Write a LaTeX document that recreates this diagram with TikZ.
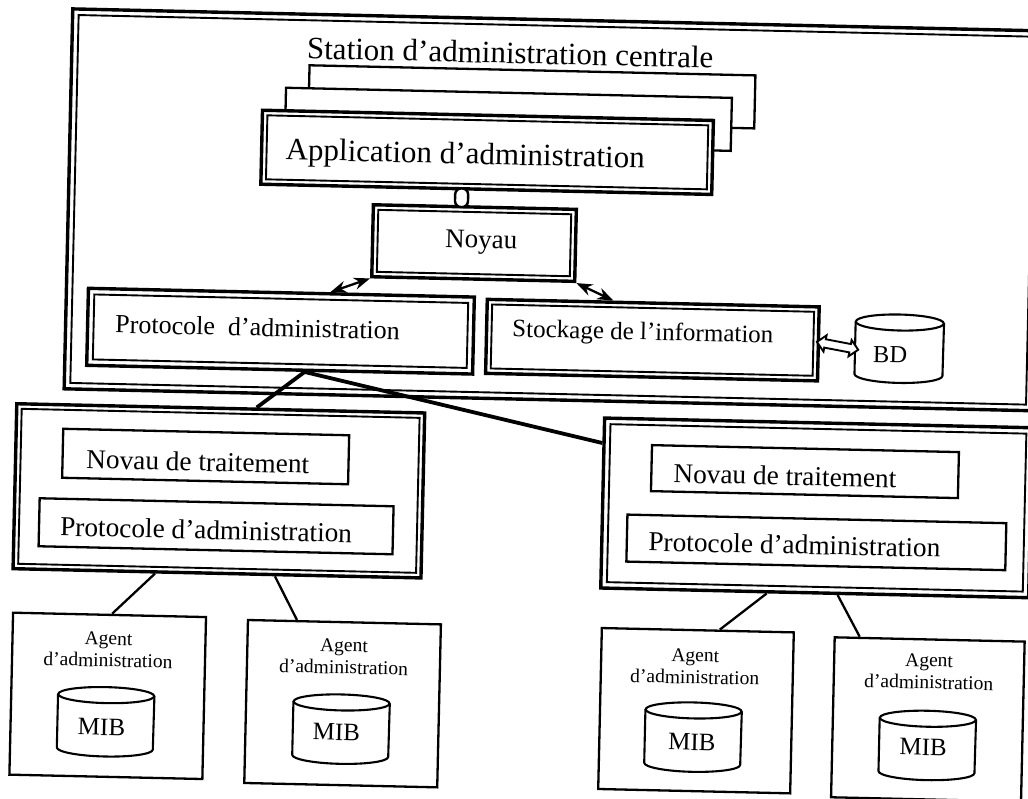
\documentclass[tikz,border=0pt]{standalone}
\usepackage{fontspec}
\setmainfont{Liberation Serif}
\usetikzlibrary{arrows.meta,shapes.arrows,calc}

\newcommand\setfs[1]{\fontsize{#1}{#1}\selectfont}

\tikzset{
  frameout/.style={draw, line width=3.4pt, inner sep=0pt, fill=white},
  framein/.style={draw, line width=1.9pt, inner sep=0pt},
  plainbox/.style={draw, line width=2.3pt, inner sep=0pt, fill=white},
  lbl/.style={inner sep=0pt, anchor=base west},
  lblc/.style={inner sep=0pt, anchor=base},
  link/.style={line width=2.3pt},
  bus/.style={line width=3.8pt},
  biarrow/.style={line width=2.3pt, {Stealth[length=16pt,width=12pt]}-{Stealth[length=16pt,width=12pt]}},
  capsule/.style={line width=2.4pt, fill=white, rounded corners=6pt},
  cylline/.style={line width=2.1pt},
}

% double-framed box: name, cx, cy, width, height, gap between the two frames
\newcommand\dbox[6]{%
  \node[frameout, minimum width=#4, minimum height=#5] (#1) at (#2,#3) {};
  \node[framein, minimum width=#4-2*#6, minimum height=#5-2*#6] (#1-in) at (#2,#3) {};
}
% database drum: name, cx, cy, half width, height
\newcommand\drum[5]{%
  \node[inner sep=0pt, minimum width=2*#4, minimum height=#5] (#1) at (#2,#3) {};
  \draw[cylline] ([yshift=-8pt]#1.north west) -- ([yshift=8pt]#1.south west)
    arc[start angle=180, end angle=360, x radius=#4pt, y radius=8pt]
    -- ([yshift=-8pt]#1.north east);
  \draw[cylline] ([yshift=-8pt]#1.north) ellipse[x radius=#4pt, y radius=8pt];
}
% management agent: name, cx, cy, width, height, text x, first baseline, drum x, drum y
\newcommand\agentbox[9]{%
  \node[plainbox, minimum width=#4, minimum height=#5] (#1) at (#2,#3) {};
  \node[lblc, font=\setfs{19.5}] (#1-t1) at (#6,#7) {Agent};
  \node[lblc, font=\setfs{19.5}] (#1-t2) at (#6,#7+22) {d’administration};
  \drum{#1-mib}{#8}{#9}{48}{69}
}

\begin{document}
\begin{tikzpicture}[x=1pt, y=-1pt]
\useasboundingbox (0,0) rectangle (1028,799);
\begin{scope}[transform canvas={rotate around={-1.3:(514,400)}}]

% ---------- central management station ----------
\dbox{station}{548}{209}{968}{380}{6}
\node[lbl, font=\setfs{31}] (title) at (299,63.5) {Station d’administration centrale};

\node[plainbox, minimum width=446, minimum height=53] (stk3) at (525,96.5) {};
\node[plainbox, minimum width=446, minimum height=53] (stk2) at (502,119.5) {};
\dbox{app}{481.5}{153}{451}{74}{5}
\node[lbl, font=\setfs{31}] (apptxt) at (280,165) {Application d’administration};

\dbox{noy}{470.5}{244}{203}{72}{5}
\node[lbl, font=\setfs{27}] (noytxt) at (441.5,249) {Noyau};

\dbox{prot}{279}{336.5}{386}{77}{6}
\node[lbl, font=\setfs{26}] (prottxt) at (113.6,342) {Protocole~ d’administration};

\dbox{stock}{651}{337}{332}{74}{5}
\node[lbl, font=\setfs{25}] (stocktxt) at (510.6,337) {Stockage de l’information};

\drum{bd}{898}{340}{44}{68}
\node[lblc, font=\setfs{24.5}] (bdtxt) at (889,354.5) {BD};

\node[double arrow, draw, line width=1.9pt, fill=white, inner sep=3.3pt,
      minimum height=42pt, double arrow head extend=4pt, rotate=-9.5]
      (dbl) at ($(stock.east)!0.5!(bd.west)$) {};

% short tube joining the application to the kernel
\coordinate (lk) at (457,0);
\draw[capsule] ([xshift=-6.5pt,yshift=2pt]app.south -| lk) rectangle ([xshift=6.5pt,yshift=-2pt]noy.north -| lk);

\coordinate (x328) at (328,0);
\coordinate (x611) at (611,0);
\draw[biarrow] (noy.south west) -- (prot.north -| x328);
\draw[biarrow] (noy.south east) -- (stock.north -| x611);

% ---------- the two managers ----------
\dbox{lb}{221}{497.5}{408}{165}{5}
\node[plainbox, minimum width=286, minimum height=49] (lnov) at (207,463.5) {};
\node[lbl, font=\setfs{27.3}] (lnovtxt) at (87.6,478) {Novau de traitement};
\node[plainbox, minimum width=354, minimum height=48] (lprot) at (219,533) {};
\node[lbl, font=\setfs{27.3}] (lprottxt) at (63,546) {Protocole d’administration};

\dbox{rb}{819}{501}{428}{170}{6}
\node[plainbox, minimum width=307, minimum height=46] (rnov) at (806.5,465) {};
\node[lbl, font=\setfs{27.3}] (rnovtxt) at (675,479) {Novau de traitement};
\node[plainbox, minimum width=379, minimum height=47] (rprot) at (819.5,535.5) {};
\node[lbl, font=\setfs{27.3}] (rprottxt) at (651.5,547.6) {Protocole d’administration};

\coordinate (pb) at (304,0);
\coordinate (x257) at (257,0);
\coordinate (y441) at (0,441);
\draw[bus] (prot.south -| pb) -- (lb.north -| x257);
\draw[bus] (prot.south -| pb) -- (rb.west |- y441);

% ---------- agents ----------
\agentbox{ag1}{114.5}{705}{193}{162}{114}{654}{113}{731}
\node[lblc, font=\setfs{25}] (mib1) at (109,744.4) {MIB};
\agentbox{ag2}{349.5}{707.5}{193}{163}{349.7}{655.6}{348.5}{733}
\node[lblc, font=\setfs{25}] (mib2) at (344,744) {MIB};
\agentbox{ag3}{703}{706.5}{192}{161}{701}{657.6}{700.6}{733}
\node[lblc, font=\setfs{25}] (mib3) at (699.6,746) {MIB};
\agentbox{ag4}{935}{710}{190}{160}{935}{657.3}{935}{736}
\node[lblc, font=\setfs{25}] (mib4) at (931,745.7) {MIB};

\coordinate (x159) at (159,0);
\coordinate (x117) at (117,0);
\coordinate (x279) at (279,0);
\coordinate (x302) at (302,0);
\coordinate (x771) at (771,0);
\coordinate (x725) at (725,0);
\coordinate (x842) at (842,0);
\coordinate (x865) at (865,0);
\draw[link] (lb.south -| x159) -- (ag1.north -| x117);
\draw[link] (lb.south -| x279) -- (ag2.north -| x302);
\draw[link] (rb.south -| x771) -- (ag3.north -| x725);
\draw[link] (rb.south -| x842) -- (ag4.north -| x865);

\end{scope}
\end{tikzpicture}
\end{document}
